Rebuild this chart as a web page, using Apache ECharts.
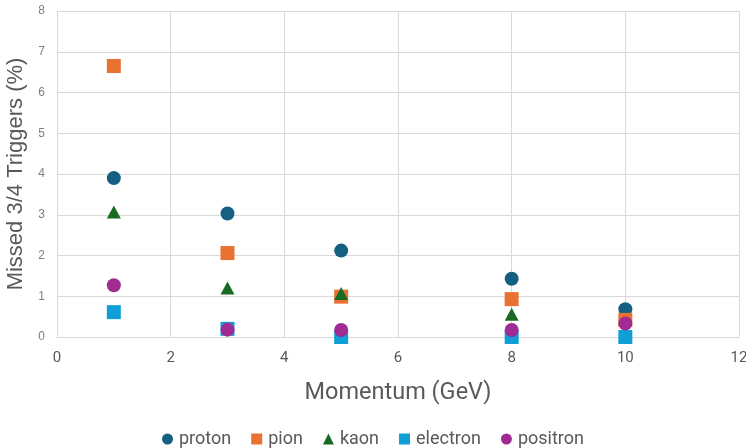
<!DOCTYPE html>
<html>
<head>
<meta charset="utf-8">
<script src="https://cdn.jsdelivr.net/npm/echarts@6/dist/echarts.min.js"></script>
<style>
  html, body { margin: 0; padding: 0; background: #fff; }
  #chart { width: 746px; height: 448px; }
</style>
</head>
<body>
<div id="chart"></div>
<script>
// Beam momentum points (GeV)
const momentum = [1, 3, 5, 8, 10];

// Missed 3/4 trigger rate (%) per particle species
const proton   = [3.90, 3.03, 2.12, 1.43, 0.68];
const pion     = [6.65, 2.06, 0.99, 0.93, 0.42];
const kaon     = [3.07, 1.20, 1.07, 0.56, 0.12];
const electron = [0.61, 0.20, 0.00, 0.00, 0.00];
const positron = [1.27, 0.18, 0.17, 0.17, 0.33];

const speciesNames = ['proton', 'pion', 'kaon', 'electron', 'positron'];
const speciesData  = [proton, pion, kaon, electron, positron];
const speciesColor = ['#156082', '#E97132', '#196B24', '#0F9ED5', '#A02B93'];
const speciesShape = ['circle', 'rect', 'triangle', 'rect', 'circle'];

// Axis ranges and tick spacing
const xMin = 0, xMax = 12, xStep = 2;
const yMin = 0, yMax = 8, yStep = 1;

const xTitle = 'Momentum (GeV)';
const yTitle = 'Missed 3/4 Triggers (%)';

const labelGray = '#595959';
const gridGray = '#d9d9d9';
const textFont = 'Roboto, "Liberation Sans", sans-serif';
const mainFont = '"Liberation Sans", "Noto Sans", sans-serif';

const chart = echarts.init(document.getElementById('chart'), null, { renderer: 'canvas' });

const series = speciesNames.map((name, i) => ({
  name: name,
  type: 'scatter',
  symbol: speciesShape[i],
  symbolSize: speciesShape[i] === 'triangle' ? [14, 13] : 14,
  itemStyle: { color: speciesColor[i], opacity: 1 },
  emphasis: { disabled: true },
  data: momentum.map((m, k) => [m, speciesData[i][k]])
}));

chart.setOption({
  animation: false,
  backgroundColor: '#ffffff',
  grid: { left: 57, right: 7, top: 11, bottom: 111, outerBoundsMode: 'none', containLabel: false },
  legend: {
    data: speciesNames.map((n, i) => ({ name: n, icon: speciesShape[i] })),
    top: 425,
    left: 'center',
    itemWidth: 11,
    itemHeight: 11,
    itemGap: 20,
    textStyle: { color: labelGray, fontSize: 18, fontFamily: textFont, padding: [0, 0, 0, 1] }
  },
  xAxis: {
    type: 'value',
    min: xMin, max: xMax, interval: xStep,
    name: xTitle,
    nameLocation: 'middle',
    nameGap: 44,
    nameTextStyle: { color: labelGray, fontSize: 23.5, fontFamily: textFont },
    axisLine: { show: true, lineStyle: { color: gridGray, width: 1 } },
    axisTick: { show: false },
    axisLabel: { color: labelGray, fontSize: 15, fontFamily: textFont, margin: 14 },
    splitLine: { show: true, lineStyle: { color: gridGray, width: 1 } }
  },
  yAxis: {
    type: 'value',
    min: yMin, max: yMax, interval: yStep,
    name: yTitle,
    nameLocation: 'middle',
    nameGap: 30,
    nameTextStyle: { color: labelGray, fontSize: 22, fontFamily: mainFont },
    axisLine: { show: true, lineStyle: { color: gridGray, width: 1 } },
    axisTick: { show: false },
    axisLabel: { color: '#7f7f7f', fontSize: 12, fontFamily: mainFont, margin: 12 },
    splitLine: { show: true, lineStyle: { color: gridGray, width: 1 } }
  },
  series: series
});
</script>
</body>
</html>
